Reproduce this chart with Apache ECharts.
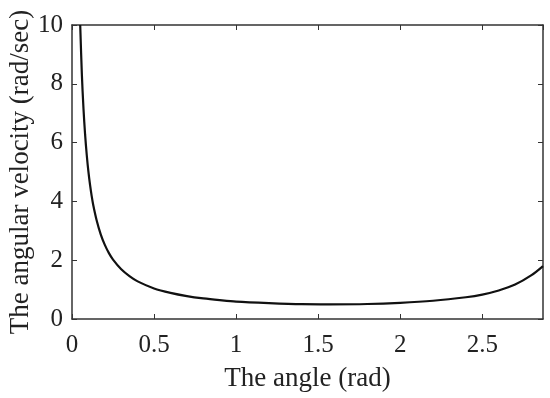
<!DOCTYPE html>
<html>
<head>
<meta charset="utf-8">
<script src="https://cdn.jsdelivr.net/npm/echarts@6/dist/echarts.min.js"></script>
<style>html,body{margin:0;padding:0;background:#fff;}#c{width:550px;height:398px;}</style>
</head>
<body>
<div id="c"></div>
<script>
var angle = [0.05,0.06,0.07,0.08,0.09,0.10,0.11,0.12,0.13,0.15,0.175,0.20,0.225,0.25,0.30,0.35,0.40,0.50,0.60,0.70,0.80,0.90,1.00,1.20,1.40,1.57,1.80,2.00,2.20,2.40,2.50,2.60,2.70,2.80,2.87];
var velocity = [10.0,8.33,7.15,6.26,5.57,5.01,4.56,4.18,3.86,3.36,2.88,2.52,2.24,2.02,1.69,1.46,1.28,1.04,0.89,0.78,0.70,0.64,0.59,0.54,0.505,0.50,0.51,0.55,0.62,0.74,0.83,0.97,1.17,1.49,1.8];
var xTicks = [0,0.5,1,1.5,2,2.5];
var yTicks = [0,2,4,6,8,10];
var xTitle = 'The angle (rad)';
var yTitle = 'The angular velocity (rad/sec)';

var font = 'Liberation Serif';
var lineCol = '#333';
var chart = echarts.init(document.getElementById('c'));
var pts = angle.map(function(a,i){return [a, velocity[i]];});
var commonX = {type:'value', min:0, max:2.87, interval:0.5, splitLine:{show:false},
  axisLine:{show:true, onZero:false, lineStyle:{color:lineCol,width:1.5}},
  axisTick:{show:true, inside:true, length:5, lineStyle:{color:lineCol}}};
var commonY = {type:'value', min:0, max:10, interval:2, splitLine:{show:false},
  axisLine:{show:true, onZero:false, lineStyle:{color:lineCol,width:1.5}},
  axisTick:{show:true, inside:true, length:5, lineStyle:{color:lineCol}}};
chart.setOption({
  animation:false,
  grid:{left:72, top:25, right:7, bottom:79, containLabel:false, outerBoundsMode:'none'},
  xAxis:[
    Object.assign({}, commonX, {position:'bottom', name:xTitle, nameLocation:'middle', nameGap:46,
      nameTextStyle:{fontFamily:font, fontSize:27, color:'#222'},
      axisLabel:{fontFamily:font, fontSize:25, color:'#222', margin:14, showMaxLabel:false,
        formatter:function(v){return xTicks.indexOf(v)>=0? String(v):'';}}}),
    Object.assign({}, commonX, {position:'top', axisLabel:{show:false}})
  ],
  yAxis:[
    Object.assign({}, commonY, {position:'left', name:yTitle, nameLocation:'middle', nameGap:38,
      nameMoveOverlap:false,
      nameTextStyle:{fontFamily:font, fontSize:27, color:'#222'},
      axisLabel:{fontFamily:font, fontSize:25, color:'#222', margin:9,
        formatter:function(v){return yTicks.indexOf(v)>=0? String(v):'';}}}),
    Object.assign({}, commonY, {position:'right', axisLabel:{show:false}})
  ],
  series:[{type:'line', data:pts, smooth:0.3, showSymbol:false,
    lineStyle:{color:'#111', width:2.2}, clip:true}]
});
</script>
</body>
</html>
